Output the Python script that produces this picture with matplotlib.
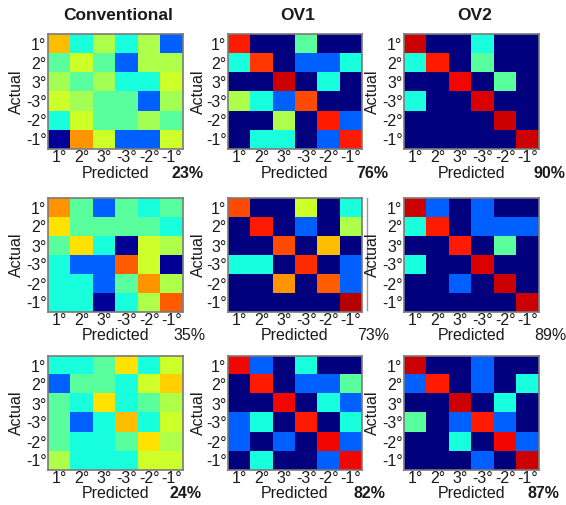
import matplotlib
matplotlib.use("Agg")
import matplotlib.pyplot as plt
import numpy as np

plt.rcParams['font.family'] = ['Liberation Sans', 'DejaVu Sans']

W, H = 566, 505

titles = ["Conventional", "OV1", "OV2"]
angles = ["1°", "2°", "3°", "-3°", "-2°", "-1°"]

# colour level of each cell on the jet scale (0 = navy, 1 = dark red)
conv_1 = [[0.71, 0.38, 0.56, 0.38, 0.56, 0.22],
          [0.46, 0.60, 0.46, 0.22, 0.56, 0.56],
          [0.55, 0.46, 0.55, 0.38, 0.38, 0.60],
          [0.60, 0.55, 0.46, 0.46, 0.22, 0.55],
          [0.38, 0.60, 0.46, 0.46, 0.55, 0.46],
          [0.02, 0.75, 0.60, 0.22, 0.22, 0.60]]
ov1_1 = [[0.88, 0.00, 0.00, 0.46, 0.00, 0.00],
         [0.38, 0.85, 0.00, 0.22, 0.22, 0.38],
         [0.00, 0.00, 0.93, 0.00, 0.38, 0.00],
         [0.56, 0.38, 0.22, 0.83, 0.00, 0.00],
         [0.00, 0.00, 0.56, 0.00, 0.88, 0.22],
         [0.00, 0.38, 0.38, 0.00, 0.22, 0.88]]
ov2_1 = [[0.93, 0.00, 0.00, 0.38, 0.00, 0.00],
         [0.38, 0.88, 0.00, 0.46, 0.00, 0.00],
         [0.00, 0.00, 0.90, 0.00, 0.46, 0.00],
         [0.38, 0.00, 0.00, 0.92, 0.00, 0.00],
         [0.00, 0.00, 0.00, 0.00, 0.93, 0.00],
         [0.00, 0.00, 0.00, 0.00, 0.00, 0.93]]
conv_2 = [[0.75, 0.46, 0.22, 0.46, 0.38, 0.46],
          [0.67, 0.46, 0.46, 0.46, 0.46, 0.38],
          [0.46, 0.67, 0.38, 0.02, 0.60, 0.56],
          [0.38, 0.22, 0.22, 0.81, 0.60, 0.02],
          [0.38, 0.38, 0.22, 0.46, 0.75, 0.56],
          [0.38, 0.38, 0.02, 0.38, 0.56, 0.81]]
ov1_2 = [[0.83, 0.00, 0.00, 0.60, 0.00, 0.38],
         [0.00, 0.88, 0.00, 0.22, 0.00, 0.56],
         [0.00, 0.00, 0.83, 0.00, 0.71, 0.00],
         [0.38, 0.38, 0.00, 0.86, 0.00, 0.22],
         [0.00, 0.00, 0.75, 0.00, 0.81, 0.22],
         [0.00, 0.00, 0.00, 0.00, 0.00, 0.95]]
ov2_2 = [[0.93, 0.22, 0.00, 0.22, 0.00, 0.00],
         [0.38, 0.88, 0.00, 0.22, 0.22, 0.22],
         [0.00, 0.00, 0.88, 0.00, 0.46, 0.00],
         [0.38, 0.00, 0.00, 0.92, 0.00, 0.00],
         [0.00, 0.00, 0.22, 0.00, 0.93, 0.00],
         [0.00, 0.00, 0.00, 0.00, 0.00, 0.93]]
conv_3 = [[0.38, 0.38, 0.46, 0.67, 0.38, 0.60],
          [0.22, 0.46, 0.46, 0.38, 0.60, 0.69],
          [0.46, 0.38, 0.67, 0.38, 0.46, 0.56],
          [0.46, 0.22, 0.38, 0.71, 0.38, 0.60],
          [0.46, 0.38, 0.38, 0.46, 0.67, 0.56],
          [0.56, 0.38, 0.38, 0.38, 0.60, 0.60]]
ov1_3 = [[0.90, 0.22, 0.00, 0.38, 0.00, 0.00],
         [0.00, 0.88, 0.00, 0.22, 0.22, 0.46],
         [0.00, 0.00, 0.90, 0.00, 0.38, 0.22],
         [0.22, 0.38, 0.00, 0.88, 0.00, 0.38],
         [0.22, 0.00, 0.22, 0.00, 0.90, 0.22],
         [0.00, 0.38, 0.00, 0.00, 0.22, 0.90]]
ov2_3 = [[0.93, 0.00, 0.00, 0.22, 0.00, 0.00],
         [0.22, 0.88, 0.00, 0.22, 0.00, 0.38],
         [0.00, 0.00, 0.93, 0.00, 0.38, 0.00],
         [0.46, 0.00, 0.22, 0.88, 0.22, 0.00],
         [0.00, 0.00, 0.38, 0.00, 0.90, 0.22],
         [0.00, 0.00, 0.00, 0.22, 0.00, 0.93]]

matrices = [[conv_1, ov1_1, ov2_1],
            [conv_2, ov1_2, ov2_2],
            [conv_3, ov1_3, ov2_3]]
accuracy = [["23%", "76%", "90%"],
            ["35%", "73%", "89%"],
            ["24%", "82%", "87%"]]
acc_bold = [[True, True, True],
            [False, False, False],
            [True, True, True]]

# panel boxes in pixels: left, top, right, bottom
col_x = [(48, 183), (228, 362), (404, 539)]
row_y = [(34, 149), (198, 312), (356, 470)]
acc_x = [[172, 356, 534], [173, 357, 534], [170, 353, 527]]
ylab_x = [16, 198, 372]


def fx(px):
    return px / W


def fy(py):
    return 1 - py / H


fig = plt.figure(figsize=(W / 100, H / 100), dpi=100)
txt = '#1a1a1a'

for r in range(3):
    for c in range(3):
        x0, x1 = col_x[c]
        y0, y1 = row_y[r]
        ax = fig.add_axes([fx(x0), fy(y1), fx(x1) - fx(x0), fy(y0) - fy(y1)])
        ax.imshow(np.array(matrices[r][c]), cmap='jet', vmin=0, vmax=1,
                  aspect='auto', interpolation='nearest')
        ax.set_xticks(range(6))
        ax.set_yticks(range(6))
        ax.set_xticklabels(angles, fontsize=11.5, color=txt)
        ax.set_yticklabels(angles, fontsize=11.5, color=txt)
        ax.tick_params(length=0, pad=1)
        for s in ax.spines.values():
            s.set_color('#7a7a7a')
            s.set_linewidth(1.2)
        xc = (x0 + x1) / 2
        fig.text(fx(xc), fy(y1 + 24), "Predicted", fontsize=11.5, color=txt,
                 ha='center', va='center')
        fig.text(fx(acc_x[r][c]), fy(y1 + 24), accuracy[r][c], fontsize=11.5,
                 color=txt, ha='left', va='center',
                 fontweight='bold' if acc_bold[r][c] else 'normal')
        fig.text(fx(ylab_x[c]), fy((y0 + y1) / 2), "Actual", fontsize=11.5,
                 color=txt, rotation=90, ha='center', va='center')
        if r == 0:
            fig.text(fx(xc + 3), fy(15), titles[c], fontsize=12.5,
                     fontweight='bold', ha='center', va='center', color=txt)

# stray vertical rule beside the middle panel
fig.add_artist(plt.Line2D([fx(367), fx(367)], [fy(198), fy(310)],
                          color='#9a9a9a', lw=1))

fig.savefig("out.png", dpi=100)
